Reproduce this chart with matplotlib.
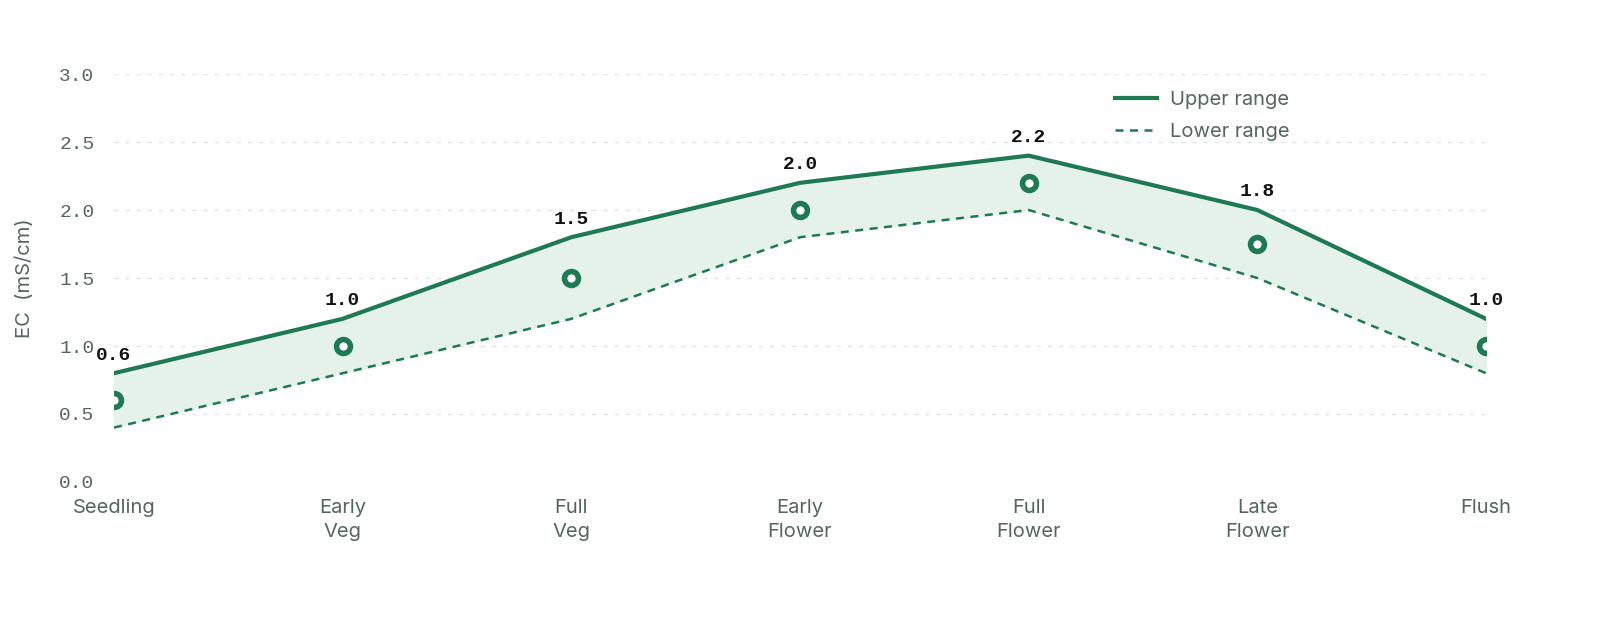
import matplotlib
matplotlib.use("Agg")
import matplotlib.pyplot as plt

stages = ["Seedling", "Early\nVeg", "Full\nVeg", "Early\nFlower", "Full\nFlower", "Late\nFlower", "Flush"]
upper = [0.8, 1.2, 1.8, 2.2, 2.4, 2.0, 1.2]
lower = [0.4, 0.8, 1.2, 1.8, 2.0, 1.5, 0.8]
target = [0.6, 1.0, 1.5, 2.0, 2.2, 1.75, 1.0]

GREEN = "#1f7a53"
FILL = "#e5f2e9"
GREY = "#56655f"
SANS = ["Inter", "DejaVu Sans"]
MONO = ["Liberation Mono", "DejaVu Sans Mono"]

fig = plt.figure(figsize=(16, 6.2), dpi=100)
ax = fig.add_axes([0.07125, 0.2226, 0.8575, 0.658])

x = list(range(len(stages)))
ax.fill_between(x, lower, upper, color=FILL, zorder=1)
ax.plot(x, upper, color=GREEN, lw=3, label="Upper range", zorder=3)
ax.plot(x, lower, color=GREEN, lw=1.8, ls=(0, (3.2, 2.6)), label="Lower range", zorder=3)
ax.plot(x, target, ls="none", marker="o", ms=10, mfc="white", mec=GREEN, mew=4, zorder=4)

for xi, u, t in zip(x, upper, target):
    ax.annotate(f"{t:.1f}", (xi, u), xytext=(0, 13), textcoords="offset points",
                ha="center", va="center", fontsize=14, fontweight="bold",
                family=MONO, color="#111111", zorder=5)

ax.set_xlim(0, 6)
ax.set_ylim(0, 3)
ax.set_yticks([0, 0.5, 1.0, 1.5, 2.0, 2.5, 3.0])
ax.set_yticklabels([f"{v:.1f}" for v in ax.get_yticks()], family=MONO)
ax.set_xticks(x)
ax.set_xticklabels(stages, fontsize=14.5, color=GREY, linespacing=1.45, family=SANS)
ax.tick_params(axis="y", length=0, pad=14, labelsize=14, labelcolor=GREY)
ax.tick_params(axis="x", length=0, pad=12)
ax.grid(axis="y", color="#e3e3e3", ls=(0, (3, 5)), lw=1)
ax.set_axisbelow(True)
for s in ax.spines.values():
    s.set_visible(False)
ax.set_ylabel("EC  (mS/cm)", fontsize=14.5, color=GREY, labelpad=18, family=SANS)

ax.legend(loc="upper left", bbox_to_anchor=(0.7296, 0.958), frameon=False,
          prop={"family": SANS, "size": 14.5}, labelcolor=GREY, borderpad=0,
          borderaxespad=0, handlelength=2.1, handletextpad=0.65, labelspacing=0.7)

fig.savefig("out.png", dpi=100, facecolor="white")
